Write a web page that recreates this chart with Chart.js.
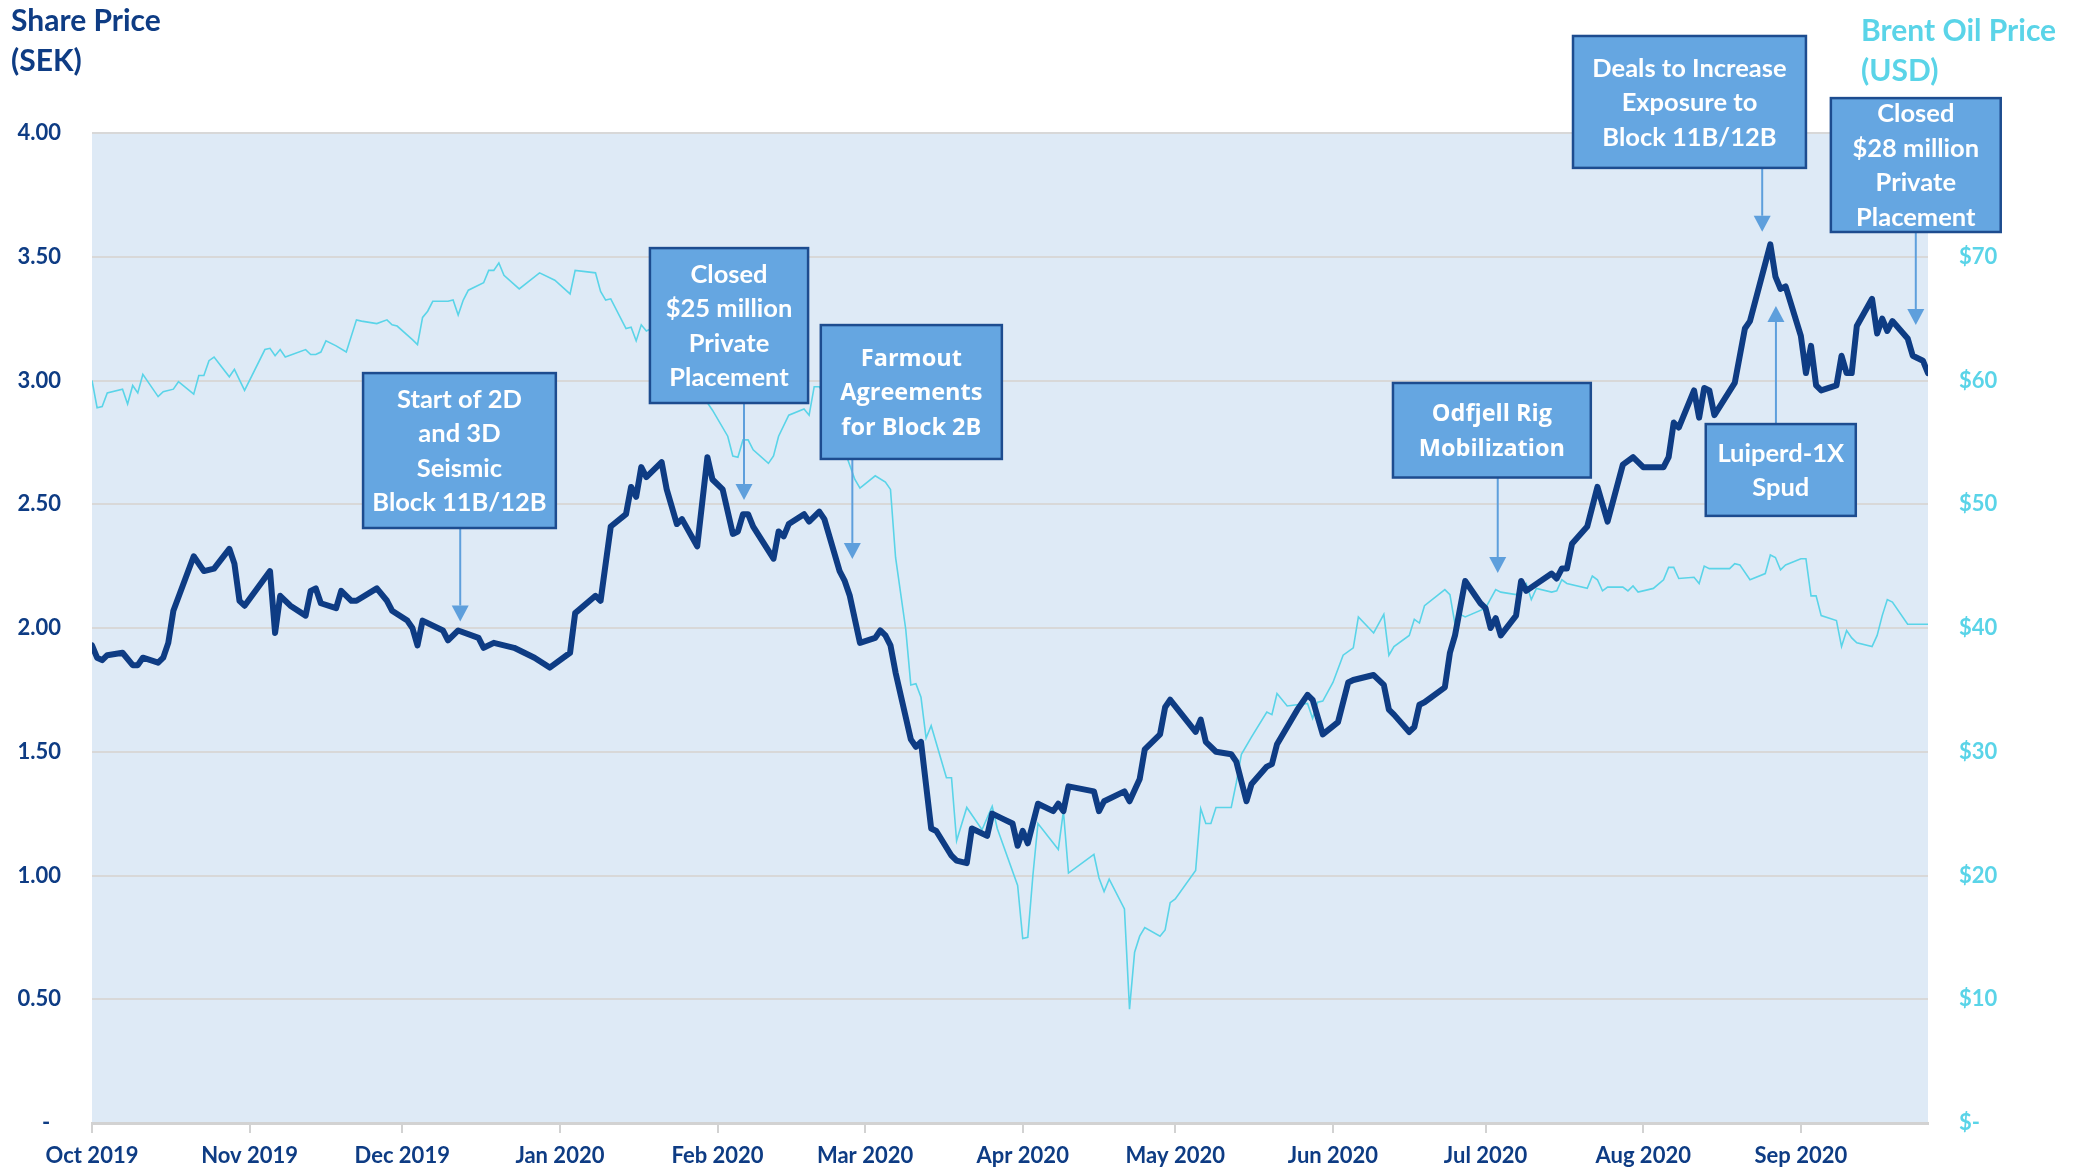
<!DOCTYPE html>
<html>
<head>
<meta charset="utf-8">
<script src="https://cdn.jsdelivr.net/npm/chart.js@4.4.1/dist/chart.umd.min.js"></script>
<style>
  html, body { margin: 0; padding: 0; background: #fff; }
  #wrap { width: 2086px; height: 1169px; }
</style>
</head>
<body>
<div id="wrap"><canvas id="priceChart" width="2086" height="1169"></canvas></div>
<script>
// Share price (SEK)
var shareDates = [
  '2019-10-01','2019-10-02','2019-10-03','2019-10-04','2019-10-07','2019-10-09','2019-10-10','2019-10-11',
  '2019-10-14','2019-10-15','2019-10-16','2019-10-17','2019-10-21','2019-10-23','2019-10-25','2019-10-28',
  '2019-10-29','2019-10-30','2019-10-31','2019-11-05','2019-11-06','2019-11-07','2019-11-09','2019-11-12',
  '2019-11-13','2019-11-14','2019-11-15','2019-11-18','2019-11-19','2019-11-21','2019-11-22','2019-11-26',
  '2019-11-28','2019-11-29','2019-12-02','2019-12-03','2019-12-04','2019-12-05','2019-12-09','2019-12-10',
  '2019-12-12','2019-12-16','2019-12-17','2019-12-19','2019-12-23','2019-12-27','2019-12-30','2020-01-03',
  '2020-01-04','2020-01-08','2020-01-09','2020-01-11','2020-01-14','2020-01-15','2020-01-16','2020-01-17',
  '2020-01-18','2020-01-21','2020-01-22','2020-01-24','2020-01-25','2020-01-28','2020-01-30','2020-01-31',
  '2020-02-02','2020-02-04','2020-02-05','2020-02-06','2020-02-07','2020-02-08','2020-02-12','2020-02-13',
  '2020-02-14','2020-02-15','2020-02-18','2020-02-19','2020-02-21','2020-02-22','2020-02-25','2020-02-26',
  '2020-02-27','2020-02-29','2020-03-03','2020-03-04','2020-03-05','2020-03-06','2020-03-07','2020-03-10',
  '2020-03-11','2020-03-12','2020-03-14','2020-03-15','2020-03-18','2020-03-19','2020-03-21','2020-03-22',
  '2020-03-25','2020-03-26','2020-03-28','2020-03-30','2020-03-31','2020-04-01','2020-04-02','2020-04-04',
  '2020-04-07','2020-04-08','2020-04-09','2020-04-10','2020-04-15','2020-04-16','2020-04-17','2020-04-21',
  '2020-04-22','2020-04-24','2020-04-25','2020-04-28','2020-04-29','2020-04-30','2020-05-05','2020-05-06',
  '2020-05-07','2020-05-09','2020-05-12','2020-05-13','2020-05-15','2020-05-16','2020-05-19','2020-05-20',
  '2020-05-21','2020-05-25','2020-05-27','2020-05-28','2020-05-30','2020-06-02','2020-06-04','2020-06-05',
  '2020-06-09','2020-06-11','2020-06-12','2020-06-13','2020-06-16','2020-06-17','2020-06-18','2020-06-19',
  '2020-06-23','2020-06-24','2020-06-25','2020-06-27','2020-06-30','2020-07-01','2020-07-02','2020-07-03',
  '2020-07-04','2020-07-07','2020-07-08','2020-07-09','2020-07-14','2020-07-15','2020-07-16','2020-07-17',
  '2020-07-18','2020-07-21','2020-07-23','2020-07-25','2020-07-28','2020-07-30','2020-08-01','2020-08-05',
  '2020-08-06','2020-08-07','2020-08-08','2020-08-11','2020-08-12','2020-08-13','2020-08-14','2020-08-15',
  '2020-08-19','2020-08-21','2020-08-22','2020-08-26','2020-08-27','2020-08-28','2020-08-29','2020-09-01',
  '2020-09-02','2020-09-03','2020-09-04','2020-09-05','2020-09-08','2020-09-09','2020-09-10','2020-09-11',
  '2020-09-12','2020-09-15','2020-09-16','2020-09-17','2020-09-18','2020-09-19','2020-09-22','2020-09-23',
  '2020-09-25','2020-09-26'
];
var sharePrices = [
  1.93,1.88,1.87,1.89,1.90,1.85,1.85,1.88,
  1.86,1.88,1.94,2.07,2.29,2.23,2.24,2.32,
  2.26,2.11,2.09,2.23,1.98,2.13,2.09,2.05,
  2.15,2.16,2.10,2.08,2.15,2.11,2.11,2.16,
  2.11,2.07,2.03,2.00,1.93,2.03,1.99,1.95,
  1.99,1.96,1.92,1.94,1.92,1.88,1.84,1.90,
  2.06,2.13,2.11,2.41,2.46,2.57,2.53,2.65,
  2.61,2.67,2.56,2.42,2.44,2.33,2.69,2.60,
  2.56,2.38,2.39,2.46,2.46,2.41,2.28,2.39,
  2.37,2.42,2.46,2.43,2.47,2.44,2.23,2.19,
  2.13,1.94,1.96,1.99,1.97,1.93,1.82,1.55,
  1.52,1.54,1.19,1.18,1.08,1.06,1.05,1.19,
  1.16,1.25,1.23,1.21,1.12,1.18,1.13,1.29,
  1.26,1.29,1.26,1.36,1.34,1.26,1.30,1.34,
  1.30,1.39,1.51,1.57,1.68,1.71,1.58,1.63,
  1.54,1.50,1.49,1.46,1.30,1.37,1.44,1.45,
  1.53,1.67,1.73,1.71,1.57,1.62,1.78,1.79,
  1.81,1.77,1.67,1.65,1.58,1.60,1.69,1.70,
  1.76,1.90,1.97,2.19,2.10,2.08,2.00,2.04,
  1.97,2.05,2.19,2.15,2.22,2.20,2.24,2.24,
  2.34,2.41,2.57,2.43,2.66,2.69,2.65,2.65,
  2.69,2.83,2.81,2.96,2.85,2.97,2.96,2.86,
  2.99,3.21,3.24,3.55,3.42,3.37,3.38,3.18,
  3.03,3.14,2.98,2.96,2.98,3.10,3.03,3.03,
  3.22,3.33,3.19,3.25,3.20,3.24,3.17,3.10,
  3.08,3.03
];

// Brent oil price (USD)
var oilDates = [
  '2019-10-01','2019-10-02','2019-10-03','2019-10-04','2019-10-07','2019-10-08','2019-10-09','2019-10-10',
  '2019-10-11','2019-10-14','2019-10-15','2019-10-17','2019-10-18','2019-10-21','2019-10-22','2019-10-23',
  '2019-10-24','2019-10-25','2019-10-28','2019-10-29','2019-10-31','2019-11-04','2019-11-05','2019-11-06',
  '2019-11-07','2019-11-08','2019-11-12','2019-11-13','2019-11-14','2019-11-15','2019-11-16','2019-11-18',
  '2019-11-20','2019-11-22','2019-11-23','2019-11-26','2019-11-28','2019-11-29','2019-11-30','2019-12-03',
  '2019-12-04','2019-12-05','2019-12-06','2019-12-07','2019-12-10','2019-12-11','2019-12-12','2019-12-13',
  '2019-12-14','2019-12-17','2019-12-18','2019-12-19','2019-12-20','2019-12-21','2019-12-24','2019-12-28',
  '2019-12-31','2020-01-03','2020-01-04','2020-01-08','2020-01-09','2020-01-10','2020-01-11','2020-01-14',
  '2020-01-15','2020-01-16','2020-01-17','2020-01-18','2020-01-19','2020-01-30','2020-01-31','2020-02-03',
  '2020-02-04','2020-02-05','2020-02-06','2020-02-07','2020-02-08','2020-02-11','2020-02-12','2020-02-13',
  '2020-02-15','2020-02-18','2020-02-19','2020-02-20','2020-02-21','2020-02-22','2020-02-28','2020-02-29',
  '2020-03-03','2020-03-05','2020-03-06','2020-03-07','2020-03-09','2020-03-10','2020-03-11','2020-03-12',
  '2020-03-13','2020-03-14','2020-03-17','2020-03-18','2020-03-19','2020-03-21','2020-03-24','2020-03-26',
  '2020-03-27','2020-03-31','2020-04-01','2020-04-02','2020-04-03','2020-04-04','2020-04-08','2020-04-09',
  '2020-04-10','2020-04-15','2020-04-16','2020-04-17','2020-04-18','2020-04-21','2020-04-22','2020-04-23',
  '2020-04-24','2020-04-25','2020-04-28','2020-04-29','2020-04-30','2020-05-01','2020-05-05','2020-05-06',
  '2020-05-07','2020-05-08','2020-05-09','2020-05-12','2020-05-13','2020-05-14','2020-05-16','2020-05-19',
  '2020-05-20','2020-05-21','2020-05-23','2020-05-27','2020-05-28','2020-05-29','2020-05-30','2020-06-01',
  '2020-06-03','2020-06-05','2020-06-06','2020-06-09','2020-06-11','2020-06-12','2020-06-13','2020-06-16',
  '2020-06-17','2020-06-18','2020-06-19','2020-06-23','2020-06-24','2020-06-25','2020-06-26','2020-06-27',
  '2020-07-01','2020-07-03','2020-07-04','2020-07-07','2020-07-09','2020-07-10','2020-07-11','2020-07-14',
  '2020-07-15','2020-07-16','2020-07-17','2020-07-21','2020-07-22','2020-07-23','2020-07-24','2020-07-25',
  '2020-07-28','2020-07-29','2020-07-30','2020-07-31','2020-08-03','2020-08-05','2020-08-06','2020-08-07',
  '2020-08-08','2020-08-11','2020-08-12','2020-08-13','2020-08-14','2020-08-18','2020-08-19','2020-08-20',
  '2020-08-22','2020-08-25','2020-08-26','2020-08-27','2020-08-28','2020-08-29','2020-09-01','2020-09-02',
  '2020-09-03','2020-09-04','2020-09-05','2020-09-08','2020-09-09','2020-09-10','2020-09-11','2020-09-12',
  '2020-09-15','2020-09-16','2020-09-17','2020-09-18','2020-09-19','2020-09-22','2020-09-26'
];
var oilPrices = [
  60.0,57.8,57.9,59.0,59.3,58.1,59.6,59.0,
  60.5,58.7,59.1,59.3,59.9,58.9,60.4,60.4,
  61.6,61.9,60.3,60.9,59.2,62.5,62.6,62.0,
  62.5,61.9,62.5,62.1,62.1,62.3,63.2,62.8,
  62.3,64.9,64.8,64.6,64.9,64.5,64.4,63.3,
  62.9,65.1,65.6,66.4,66.4,66.5,65.3,66.5,
  67.3,67.9,68.9,68.9,69.5,68.5,67.4,68.7,
  68.1,67.0,68.9,68.7,67.2,66.5,66.6,64.2,
  64.3,63.2,64.5,64.0,64.2,58.2,57.6,55.5,
  53.9,53.8,55.2,55.2,54.4,53.3,53.9,55.5,
  57.2,57.7,57.2,59.5,59.5,58.9,52.0,51.3,
  52.3,51.8,51.2,45.7,39.9,35.4,35.5,34.4,
  31.1,32.1,27.9,27.9,22.8,25.5,23.7,25.6,
  23.8,19.2,14.9,15.0,20.0,24.2,22.1,25.2,
  20.2,21.7,19.8,18.7,19.7,17.3,9.2,13.8,
  15.1,15.8,15.1,15.6,17.8,18.1,20.4,25.4,
  24.2,24.2,25.5,25.5,27.5,29.8,31.2,33.2,
  33.0,34.7,33.7,33.9,32.7,34.0,34.1,35.6,
  37.8,38.4,40.9,39.6,41.1,37.8,38.5,39.4,
  40.7,40.4,41.8,43.1,42.7,40.3,41.1,40.9,
  41.6,43.1,42.9,42.7,43.6,42.3,43.2,42.9,
  43.0,43.9,43.6,43.2,44.2,43.9,43.0,43.3,
  43.3,43.0,43.4,42.9,43.2,43.9,44.9,44.9,
  44.0,44.1,43.6,45.0,44.8,44.8,45.2,45.1,
  43.9,44.4,45.9,45.7,44.7,45.1,45.6,45.6,
  42.6,42.6,41.0,40.6,38.5,39.8,39.2,38.8,
  38.5,39.4,41.0,42.3,42.1,40.3,40.3
];

var monthStarts = ['2019-10-01','2019-11-01','2019-12-01','2020-01-01','2020-02-01','2020-03-01',
                   '2020-04-01','2020-05-01','2020-06-01','2020-07-01','2020-08-01','2020-09-01'];
var monthLabels = ['Oct 2019','Nov 2019','Dec 2019','Jan 2020','Feb 2020','Mar 2020',
                   'Apr 2020','May 2020','Jun 2020','Jul 2020','Aug 2020','Sep 2020'];
var lastDay = '2020-09-26';

// Event call-outs, placed in chart units: box = [fromDay, toDay, topSEK, bottomSEK], arrow = [day, tipSEK]
var notes = [
  { lines: ['Start of 2D', 'and 3D', 'Seismic', 'Block 11B/12B'], box: [53.3, 91.2, 3.03, 2.404], arrow: [72.4, 2.026], font: 'Lato' },
  { lines: ['Closed', '$25 million', 'Private', 'Placement'], box: [109.7, 140.8, 3.535, 2.909], arrow: [128.2, 2.517], font: 'Lato' },
  { lines: ['Farmout', 'Agreements', 'for Block 2B'], box: [143.3, 178.9, 3.224, 2.683], arrow: [149.5, 2.279], font: 'Open Sans' },
  { lines: ['Odfjell Rig', 'Mobilization'], box: [255.8, 294.7, 2.99, 2.608], arrow: [276.4, 2.222], font: 'Open Sans' },
  { lines: ['Deals to Increase', 'Exposure to', 'Block 11B/12B'], box: [291.2, 337.0, 4.392, 3.859], arrow: [328.4, 3.601], font: 'Lato' },
  { lines: ['Closed', '$28 million', 'Private', 'Placement'], box: [341.9, 375.3, 4.141, 3.60], arrow: [358.6, 3.224], font: 'Lato' },
  { lines: ['Luiperd-1X', 'Spud'], box: [317.3, 346.8, 2.824, 2.453], arrow: [331.1, 3.301], font: 'Lato' }
];

var navy = '#0e3c84';
var cyan = '#5ad4e8';
var day0 = Date.parse('2019-10-01');
function dayOf(s) { return (Date.parse(s) - day0) / 86400000; }

function toPoints(dates, values) {
  return dates.map(function (d, i) { return { x: dayOf(d), y: values[i] }; });
}

var plotBackground = {
  id: 'plotBackground',
  beforeDraw: function (chart) {
    var a = chart.chartArea, ctx = chart.ctx;
    ctx.save();
    ctx.fillStyle = '#deeaf6';
    ctx.fillRect(a.left, a.top, a.right - a.left, a.bottom - a.top);
    ctx.restore();
  }
};

function drawNote(ctx, xs, ys, n) {
  var x0 = xs.getPixelForValue(n.box[0]), x1 = xs.getPixelForValue(n.box[1]);
  var y0 = ys.getPixelForValue(n.box[2]), y1 = ys.getPixelForValue(n.box[3]);
  var ax = xs.getPixelForValue(n.arrow[0]);
  var tip = ys.getPixelForValue(n.arrow[1]);
  var down = tip > y1;
  var start = down ? y1 : y0;
  var head = 16, half = 8.5;
  var dir = down ? 1 : -1;

  // arrow
  ctx.strokeStyle = '#5e9fdc';
  ctx.fillStyle = '#5e9fdc';
  ctx.lineWidth = 2;
  ctx.beginPath();
  ctx.moveTo(ax, start);
  ctx.lineTo(ax, tip - dir * head);
  ctx.stroke();
  ctx.beginPath();
  ctx.moveTo(ax, tip);
  ctx.lineTo(ax - half, tip - dir * head);
  ctx.lineTo(ax + half, tip - dir * head);
  ctx.closePath();
  ctx.fill();

  // box
  ctx.fillStyle = '#65a6e1';
  ctx.fillRect(x0, y0, x1 - x0, y1 - y0);
  ctx.strokeStyle = '#1d4c8f';
  ctx.lineWidth = 2.5;
  ctx.strokeRect(x0, y0, x1 - x0, y1 - y0);

  // text
  var size = n.font === 'Lato' ? 25.5 : 23.5;
  var lh = 34.5;
  ctx.fillStyle = '#ffffff';
  ctx.font = 'bold ' + size + 'px "' + n.font + '"';
  ctx.textAlign = 'center';
  ctx.textBaseline = 'alphabetic';
  var cx = (x0 + x1) / 2, cy = (y0 + y1) / 2;
  var firstBase = cy - (n.lines.length - 1) / 2 * lh + size * 0.36;
  n.lines.forEach(function (t, i) {
    ctx.fillText(t, cx, firstBase + i * lh);
  });
}

var notesAndTitles = {
  id: 'notesAndTitles',
  afterDraw: function (chart) {
    var ctx = chart.ctx;
    ctx.save();
    notes.forEach(function (n) { drawNote(ctx, chart.scales.x, chart.scales.y, n); });

    ctx.textAlign = 'left';
    ctx.textBaseline = 'alphabetic';
    ctx.font = 'bold 30px Lato';
    ctx.fillStyle = navy;
    ctx.fillText('Share Price', 11, 31);
    ctx.fillText('(SEK)', 11, 71);
    ctx.fillStyle = cyan;
    ctx.fillText('Brent Oil Price', 1861, 41);
    ctx.fillText('(USD)', 1861, 81);
    ctx.restore();
  }
};

var tickFont = { family: 'Lato', size: 22, weight: 'bold' };

new Chart(document.getElementById('priceChart'), {
  type: 'line',
  data: {
    datasets: [
      {
        label: 'Share Price (SEK)',
        data: toPoints(shareDates, sharePrices),
        yAxisID: 'y',
        borderColor: navy,
        borderWidth: 6,
        borderJoinStyle: 'round',
        borderCapStyle: 'round',
        pointRadius: 0,
        tension: 0
      },
      {
        label: 'Brent Oil Price (USD)',
        data: toPoints(oilDates, oilPrices),
        yAxisID: 'y1',
        borderColor: cyan,
        borderWidth: 1.6,
        pointRadius: 0,
        tension: 0
      }
    ]
  },
  options: {
    responsive: false,
    animation: false,
    devicePixelRatio: 1,
    layout: { padding: { top: 133, left: 0, right: 0, bottom: 0 } },
    plugins: {
      legend: { display: false },
      tooltip: { enabled: false }
    },
    scales: {
      x: {
        type: 'linear',
        min: 0,
        max: dayOf(lastDay),
        afterFit: function (s) { s.height = 46; },
        afterBuildTicks: function (s) {
          s.ticks = monthStarts.map(function (m) { return { value: dayOf(m) }; });
        },
        ticks: {
          autoSkip: false,
          maxRotation: 0,
          padding: 10,
          color: navy,
          font: tickFont,
          callback: function (v, i) { return monthLabels[i]; }
        },
        grid: {
          drawOnChartArea: false,
          drawTicks: true,
          tickLength: 10,
          color: '#d2d2d2',
          lineWidth: 2
        },
        border: { display: true, color: '#d2d2d2', width: 3 }
      },
      y: {
        position: 'left',
        min: 0,
        max: 4,
        afterFit: function (s) { s.width = 92; },
        ticks: {
          stepSize: 0.5,
          padding: 31,
          color: navy,
          font: tickFont,
          callback: function (v) { return v === 0 ? '-  ' : v.toFixed(2); }
        },
        grid: { color: '#d8d8d8', lineWidth: 2, drawTicks: false },
        border: { display: false }
      },
      y1: {
        position: 'right',
        min: 0,
        max: 80,
        afterFit: function (s) { s.width = 158; },
        ticks: {
          stepSize: 10,
          padding: 31,
          color: cyan,
          font: tickFont,
          callback: function (v) { return v === 0 ? '$-' : '$' + v; }
        },
        grid: { display: false, drawTicks: false },
        border: { display: false }
      }
    }
  },
  plugins: [plotBackground, notesAndTitles]
});
</script>
</body>
</html>
